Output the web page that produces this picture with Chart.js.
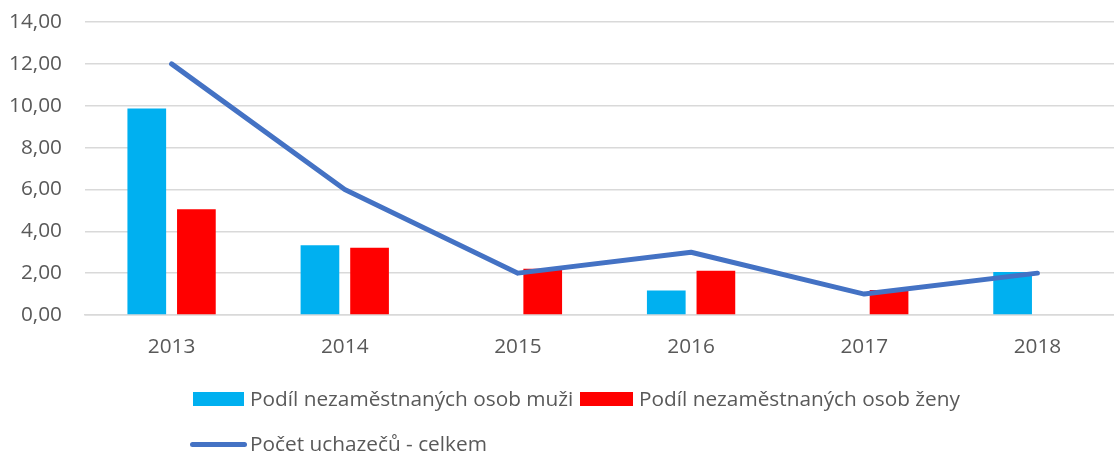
<!DOCTYPE html>
<html>
<head>
<meta charset="utf-8">
<script src="https://cdn.jsdelivr.net/npm/chart.js@4.4.1/dist/chart.umd.min.js"></script>
<style>
  html, body { margin: 0; padding: 0; background: #ffffff; overflow: hidden; width: 1114px; height: 452px; }
  #wrap { position: absolute; left: 0; top: 0; width: 1124px; height: 452px; }
  canvas { display: block; }
  .lg { position: absolute; font-family: "Open Sans", sans-serif; font-size: 20.8px; color: #595959; line-height: 24px; white-space: nowrap; }
  .sw { position: absolute; }
</style>
</head>
<body>
<div id="wrap">
  <canvas id="c" width="1124" height="452"></canvas>
</div>
<script>
// ---- data ----
const categories = ["2013", "2014", "2015", "2016", "2017", "2018"];
const menShare = [9.87, 3.33, 0, 1.17, 0, 2.05];
const womenShare = [5.05, 3.21, 2.21, 2.11, 1.20, 0];
const applicantsTotal = [12, 6, 2, 3, 1, 2];
const yTicks = [0, 2, 4, 6, 8, 10, 12, 14];
const seriesNames = ["Podíl nezaměstnaných osob muži", "Podíl nezaměstnaných osob ženy", "Počet uchazečů - celkem"];
const seriesColors = ["#00B0F0", "#FF0000", "#4472C4"];

const font = { family: "'Open Sans', sans-serif", size: 20.8 };
const gridColor = "#d9d9d9";

new Chart(document.getElementById("c"), {
  type: "bar",
  data: {
    labels: categories,
    datasets: [
      {
        type: "line",
        label: seriesNames[2],
        data: applicantsTotal,
        borderColor: seriesColors[2],
        backgroundColor: seriesColors[2],
        borderWidth: 5,
        pointRadius: 0,
        tension: 0,
        borderCapStyle: "round",
        borderJoinStyle: "round",
        order: 0
      },
      {
        label: seriesNames[0],
        data: menShare,
        backgroundColor: seriesColors[0],
        categoryPercentage: 0.573,
        barPercentage: 0.78,
        order: 1
      },
      {
        label: seriesNames[1],
        data: womenShare,
        backgroundColor: seriesColors[1],
        categoryPercentage: 0.573,
        barPercentage: 0.78,
        order: 2
      }
    ]
  },
  options: {
    responsive: false,
    animation: false,
    layout: { padding: { top: 22, right: 0, bottom: 0, left: 0 } },
    plugins: { legend: { display: false }, tooltip: { enabled: false } },
    scales: {
      x: {
        grid: { display: false },
        border: { display: true, color: gridColor, width: 1.5 },
        ticks: { font: font, color: "#595959", padding: 12, maxRotation: 0 },
        afterFit: s => { s.height = 137; }
      },
      y: {
        min: 0,
        max: 14,
        afterBuildTicks: s => { s.ticks = yTicks.map(v => ({ value: v })); },
        grid: { color: gridColor, lineWidth: 1.5, drawTicks: true, tickLength: 23, tickColor: "rgba(0,0,0,0)" },
        border: { display: false },
        ticks: {
          font: font,
          color: "#595959",
          padding: 0,
          callback: v => Number(v).toFixed(2).replace(".", ",")
        },
        afterFit: s => { s.width = 85; }
      }
    }
  }
});

// ---- legend (HTML) ----
const wrap = document.getElementById("wrap");
function addBox(cls, css, text) {
  const d = document.createElement("div");
  d.className = cls;
  Object.assign(d.style, css);
  if (text) d.textContent = text;
  wrap.appendChild(d);
}
addBox("sw", { left: "193px", top: "392px", width: "51px", height: "14px", background: seriesColors[0] });
addBox("lg", { left: "250px", top: "386px" }, seriesNames[0]);
addBox("sw", { left: "580px", top: "392px", width: "53px", height: "14px", background: seriesColors[1] });
addBox("lg", { left: "639px", top: "386px" }, seriesNames[1]);
addBox("sw", { left: "190px", top: "442px", width: "57px", height: "5px", borderRadius: "3px", background: seriesColors[2] });
addBox("lg", { left: "250px", top: "431px" }, seriesNames[2]);
</script>
</body>
</html>
